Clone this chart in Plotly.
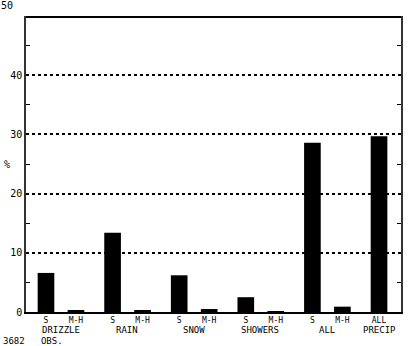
import plotly.graph_objects as go

groups = ["DRIZZLE", "RAIN", "SNOW", "SHOWERS", "ALL", "PRECIP"]
s_values = [6.6, 13.4, 6.2, 2.5, 28.6]
mh_values = [0.2, 0.3, 0.5, 0.1, 0.9]
all_precip_value = 29.7
y_ticks = [0, 10, 20, 30, 40]
obs_note = "3682   OBS."

MH_OFF = 0.45
xs, ys, labels = [], [], []
for g, (s, mh) in enumerate(zip(s_values, mh_values)):
    xs += [g, g + MH_OFF]
    ys += [s, mh]
    labels += ["S", "M-H"]
xs.append(len(s_values))
ys.append(all_precip_value)
labels.append("ALL")

font = dict(family="DejaVu Sans Mono", size=10, color="black")

fig = go.Figure(go.Bar(x=xs, y=ys, width=0.25, marker=dict(color="black", line=dict(width=0))))

fig.update_layout(
    width=412, height=346,
    margin=dict(l=26, r=9, t=16, b=34),
    plot_bgcolor="white", paper_bgcolor="white",
    showlegend=False,
    font=font,
    xaxis=dict(range=[-0.3, 5.33], tickvals=xs, ticktext=labels, ticks="",
               showgrid=False, zeroline=False, showline=True, linecolor="black",
               linewidth=1.5, tickfont=dict(family="DejaVu Sans Mono", size=8, color="black"),
               ticklabelstandoff=0),
    yaxis=dict(range=[0, 50], tickvals=y_ticks, ticktext=[str(v) for v in y_ticks],
               ticks="", showgrid=True, gridcolor="black", griddash="dot", gridwidth=1.5,
               zeroline=False, showline=True, linecolor="#333", linewidth=1.5, mirror="ticks",
               tickfont=dict(family="DejaVu Sans Mono", size=10, color="black"),
               minor=dict(ticks="inside", tickvals=[5, 15, 25, 35, 45], ticklen=4,
                          tickcolor="black", showgrid=False)),
)

fig.add_shape(type="line", xref="paper", yref="y", x0=0, x1=1, y0=50, y1=50,
              line=dict(color="black", width=4))

for g, name in enumerate(groups):
    gx = g + 0.22 if g < len(s_values) else g
    fig.add_annotation(x=gx, y=0, yref="y", text=name, showarrow=False,
                       yanchor="top", yshift=-12, borderpad=0,
                       font=dict(family="DejaVu Sans Mono", size=9, color="black"))

fig.add_annotation(x=-0.065, y=25, xref="paper", yref="y", text="%", showarrow=False,
                   xanchor="left", font=dict(family="DejaVu Sans Mono", size=10, color="black"))
fig.add_annotation(x=-0.03, y=1, xref="paper", yref="paper", text="50", showarrow=False,
                   xanchor="right", yanchor="bottom", yshift=3,
                   font=dict(family="DejaVu Sans Mono", size=10, color="black"))
fig.add_annotation(x=-0.065, y=0, xref="paper", yref="y", text=obs_note, showarrow=False,
                   xanchor="left", yanchor="top", yshift=-23, borderpad=0,
                   font=dict(family="DejaVu Sans Mono", size=9, color="black"))

fig.write_html("out.html")
